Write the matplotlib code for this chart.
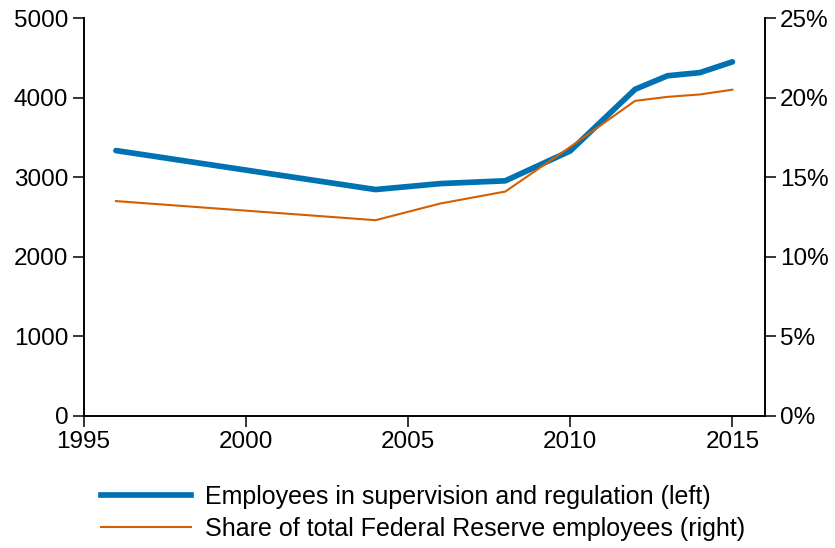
import matplotlib.pyplot as plt
import matplotlib.ticker as mticker

plt.rcParams['font.family'] = ['Liberation Sans', 'DejaVu Sans']

# supervision and regulation staff, count (left axis)
years_staff = [1996, 2004, 2006, 2008, 2010, 2012, 2013, 2014, 2015]
staff = [3335, 2845, 2920, 2955, 3330, 4105, 4275, 4315, 4450]

# share of all Federal Reserve employees, percent (right axis)
years_share = [1996, 2004, 2006, 2008, 2010, 2012, 2013, 2014, 2015]
share = [13.5, 12.3, 13.35, 14.1, 16.9, 19.8, 20.05, 20.2, 20.5]

blue = '#0072B2'
orange = '#D55E00'

fig = plt.figure(figsize=(8.35, 5.48), dpi=100)
ax = fig.add_axes([0.1, 0.241, 0.816, 0.726])
ax2 = ax.twinx()

l1, = ax.plot(years_staff, staff, color=blue, lw=4.1, solid_capstyle='round',
              label='Employees in supervision and regulation (left)')
l2, = ax2.plot(years_share, share, color=orange, lw=1.5,
               label='Share of total Federal Reserve employees (right)')

ax.set_xlim(1995, 2016)
ax.set_ylim(0, 5000)
ax2.set_ylim(0, 25)
ax.set_xticks([1995, 2000, 2005, 2010, 2015])
ax.set_yticks(range(0, 5001, 1000))
ax2.set_yticks(range(0, 26, 5))
ax2.yaxis.set_major_formatter(mticker.FuncFormatter(lambda v, p: f'{v:.0f}%'))

for a in (ax, ax2):
    a.spines['top'].set_visible(False)
    for s in a.spines.values():
        s.set_linewidth(1.2)
    a.tick_params(direction='out', length=8, width=1.1, labelsize=17.5, pad=3)

leg_line1 = plt.Line2D([], [], color=blue, lw=4.1)
fig.legend(handles=[leg_line1, l2], labels=[l1.get_label(), l2.get_label()],
           loc='upper left', bbox_to_anchor=(0.109, 0.133),
           frameon=False, fontsize=18, handlelength=3.6, handletextpad=0.56,
           labelspacing=0.3, borderaxespad=0)

fig.savefig('out.png', dpi=100)
